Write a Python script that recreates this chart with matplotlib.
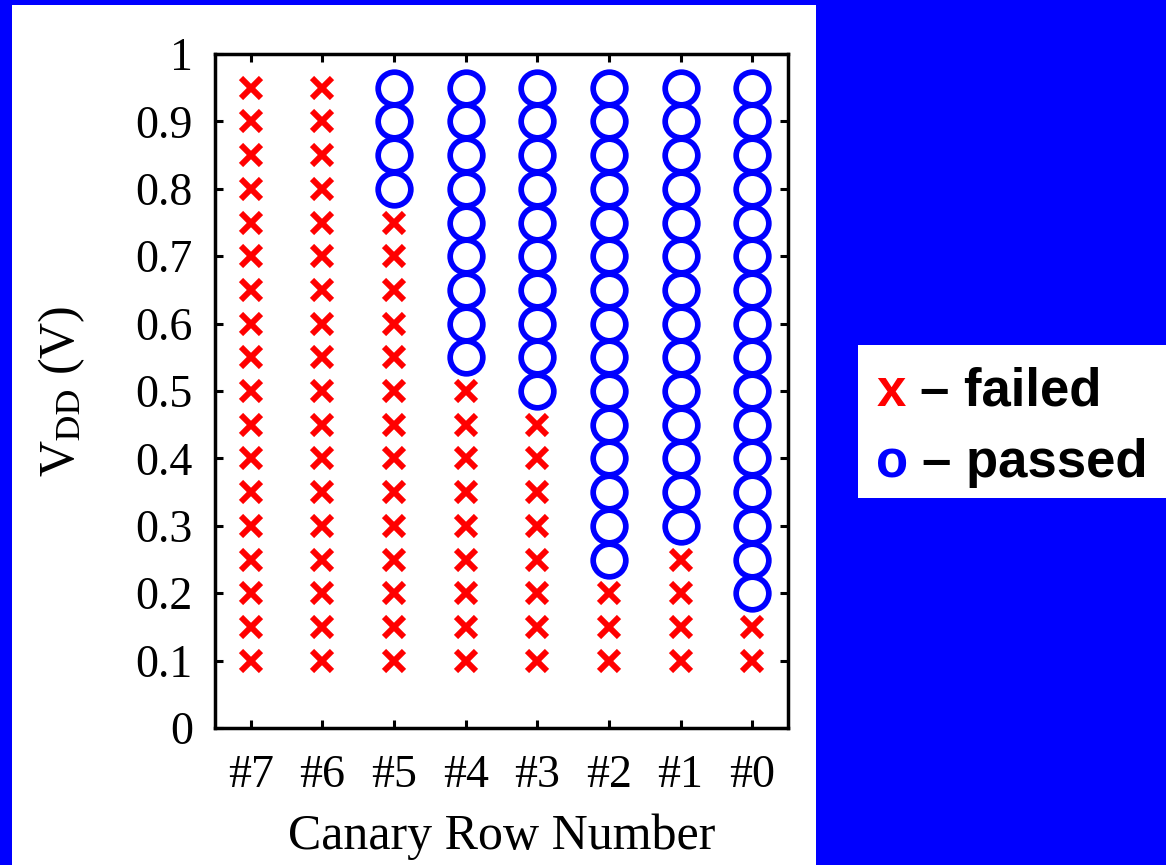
import matplotlib.pyplot as plt
from matplotlib.patches import Rectangle

rows = ['#7', '#6', '#5', '#4', '#3', '#2', '#1', '#0']
vdd_levels = [0.10, 0.15, 0.20, 0.25, 0.30, 0.35, 0.40, 0.45, 0.50,
              0.55, 0.60, 0.65, 0.70, 0.75, 0.80, 0.85, 0.90, 0.95]
# lowest VDD at which each canary row passed (None = never passed)
min_pass = [None, None, 0.80, 0.55, 0.50, 0.25, 0.30, 0.20]
yticks = [0, 0.1, 0.2, 0.3, 0.4, 0.5, 0.6, 0.7, 0.8, 0.9, 1]
ytick_labels = ['0', '0.1', '0.2', '0.3', '0.4', '0.5', '0.6', '0.7', '0.8', '0.9', '1']

plt.rcParams['font.family'] = ['Liberation Serif', 'DejaVu Serif']
plt.rcParams['mathtext.fontset'] = 'stix'

W, H = 1166, 865
fig = plt.figure(figsize=(W / 100, H / 100), dpi=100, facecolor=(0, 0, 1))

# white panel behind the chart
fig.patches.append(Rectangle((12 / W, 0), (816 - 12) / W, (865 - 5) / H,
                             transform=fig.transFigure, facecolor='white',
                             edgecolor='none', zorder=-5))

ax = fig.add_axes([215 / W, (H - 728) / H, (788 - 215) / W, (728 - 54) / H])
ax.set_facecolor('white')
ax.set_zorder(2)

fx, fy, px, py = [], [], [], []
for i, (row, thr) in enumerate(zip(rows, min_pass)):
    for v in vdd_levels:
        if thr is not None and v >= thr - 1e-9:
            px.append(i + 1)
            py.append(v)
        else:
            fx.append(i + 1)
            fy.append(v)

ax.plot(fx, fy, 'x', color=(1, 0, 0), markersize=15, markeredgewidth=4.3, zorder=3)
ax.plot(px, py, 'o', color=(0, 0, 1), markerfacecolor='none', markersize=23.5,
        markeredgewidth=4.1, zorder=3)

ax.set_xlim(0.5, 8.5)
ax.set_ylim(0, 1)
ax.set_xticks(range(1, len(rows) + 1))
ax.set_xticklabels(rows)
ax.set_yticks(yticks)
ax.set_yticklabels(ytick_labels)
ax.tick_params(direction='in', length=6, width=2.2, top=True, right=True,
               labelsize=33, pad=16)
ax.tick_params(axis='x', pad=19)
for s in ax.spines.values():
    s.set_linewidth(2.5)

ax.set_xlabel('Canary Row Number', fontsize=36, labelpad=12)
ax.set_ylabel(r'V$_{\mathrm{DD}}$ (V)', fontsize=36, labelpad=35)

# legend box on the right
fig.patches.append(Rectangle((858 / W, (H - 498) / H), (W - 858) / W, (498 - 345) / H,
                             transform=fig.transFigure, facecolor='white',
                             edgecolor='none', zorder=-5))
lg = dict(fontsize=38, fontweight='bold', family=['Liberation Sans', 'DejaVu Sans'])
fig.text(877 / W, (H - 406) / H, 'x', color=(1, 0, 0), **lg)
fig.text(920 / W, (H - 406) / H, '– failed', color='black', **lg)
fig.text(876 / W, (H - 477) / H, 'o', color=(0, 0, 1), **lg)
fig.text(922 / W, (H - 477) / H, '– passed', color='black', **lg)

fig.savefig('out.png', dpi=100, facecolor=fig.get_facecolor())
